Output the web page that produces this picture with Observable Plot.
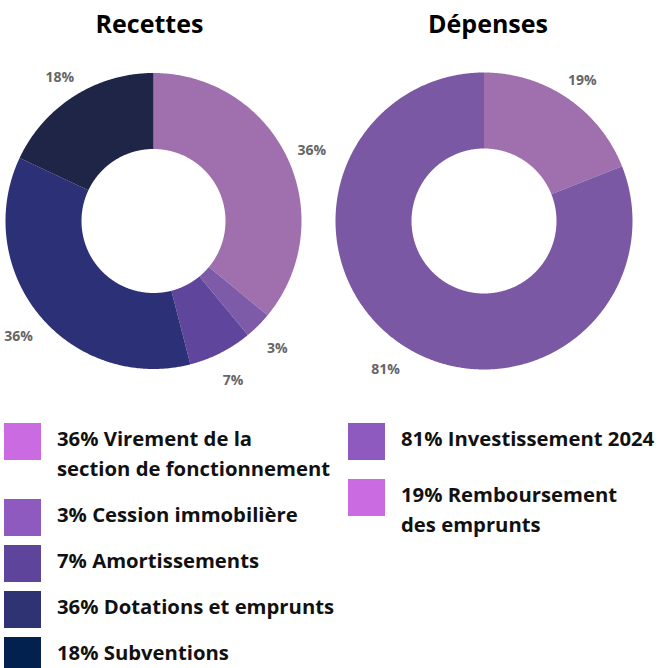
<!DOCTYPE html>
<html>
<head>
<meta charset="utf-8">
<script src="https://cdn.jsdelivr.net/npm/d3@7"></script>
<script src="https://cdn.jsdelivr.net/npm/@observablehq/plot@0.6"></script>
<style>
  html, body { margin: 0; padding: 0; background: #fff; }
  #wrap { width: 663px; height: 668px; overflow: hidden; position: relative; }
  #chart svg { display: block; }
  .legend { position: relative; display: flex; padding-top: 23px; font-family: "Open Sans", sans-serif; font-weight: 700; font-size: 20.3px; color: #111; }
  .col { display: flex; flex-direction: column; }
  .col.left { margin-left: 4px; width: 344px; }
  .col.right { margin-left: 0; }
  .item { display: flex; align-items: flex-start; }
  .sw { width: 37px; height: 37px; flex: none; }
  .txt { line-height: 30px; padding-top: 0; padding-bottom: 7px; white-space: pre-line; margin-left: 16px; }
  .left .item { margin-bottom: 9px; }
  .right .item { margin-bottom: 19px; }
</style>
</head>
<body>
<div id="wrap">
  <div id="chart"></div>
  <div class="legend" id="legend"></div>
</div>
<script>
// ---- data ----
const titles = ["Recettes", "Dépenses"];

const recettesLabels = ["Virement de la\nsection de fonctionnement", "Cession immobilière", "Amortissements", "Dotations et emprunts", "Subventions"];
const recettesValues = [36, 3, 7, 36, 18];

const depensesLabels = ["Remboursement\ndes emprunts", "Investissement 2024"];
const depensesValues = [19, 81];
const depensesLegendOrder = [1, 0];

// ---- styles ----
const recettesSliceColors = ["#a070ae", "#7e5ba8", "#5f459b", "#2c3177", "#1e2547"];
const recettesLegendColors = ["#cb6be2", "#8e5ac0", "#5f449c", "#2f3373", "#03214f"];
const depensesSliceColors = ["#a070ae", "#7a58a3"];
const depensesLegendColors = ["#cb6be2", "#8e5ac0"];

const W = 663, H = 400;
const donuts = [
  {title: titles[0], values: recettesValues, colors: recettesSliceColors, cx: 153, cy: 220.5, R: 148, r: 72, tdx: -4},
  {title: titles[1], values: depensesValues, colors: depensesSliceColors, cx: 483.5, cy: 220.5, R: 148.5, r: 72.5, tdx: 4}
];
const labelRadius = 175;

const polys = [], labels = [], heads = [];
donuts.forEach((g, gi) => {
  const arcs = d3.pie().sort(null).value(d => d)(g.values);
  arcs.forEach((a, i) => {
    const key = gi + "-" + i;
    const n = Math.max(2, Math.ceil((a.endAngle - a.startAngle) / 0.008));
    for (let k = 0; k <= n; k++) {
      const t = a.startAngle + (a.endAngle - a.startAngle) * k / n;
      polys.push({key, color: g.colors[i], x: g.cx + g.R * Math.sin(t), y: g.cy - g.R * Math.cos(t)});
    }
    for (let k = n; k >= 0; k--) {
      const t = a.startAngle + (a.endAngle - a.startAngle) * k / n;
      polys.push({key, color: g.colors[i], x: g.cx + g.r * Math.sin(t), y: g.cy - g.r * Math.cos(t)});
    }
    const m = (a.startAngle + a.endAngle) / 2;
    labels.push({x: g.cx + labelRadius * Math.sin(m), y: g.cy - labelRadius * Math.cos(m) + 4, text: g.values[i] + "%"});
  });
  heads.push({x: g.cx + g.tdx, y: 24, text: g.title});
});

const plot = Plot.plot({
  width: W, height: H,
  marginTop: 0, marginRight: 0, marginBottom: 0, marginLeft: 0,
  x: {domain: [0, W], range: [0, W], axis: null},
  y: {domain: [0, H], range: [0, H], axis: null},
  style: {fontFamily: "'Open Sans', sans-serif", background: "white"},
  marks: [
    Plot.line(polys, {x: "x", y: "y", z: "key", fill: "color", stroke: "none", curve: "linear-closed"}),
    Plot.text(labels, {x: "x", y: "y", text: "text", fontSize: 14, fontWeight: 700, fill: "#666666"}),
    Plot.text(heads, {x: "x", y: "y", text: "text", fontSize: 25, fontWeight: 700, fill: "#000"})
  ]
});
document.getElementById("chart").appendChild(plot);

// ---- legend ----
const legend = document.getElementById("legend");
function makeCol(cls, items) {
  const col = document.createElement("div");
  col.className = "col " + cls;
  items.forEach(it => {
    const row = document.createElement("div");
    row.className = "item";
    const sw = document.createElement("div");
    sw.className = "sw";
    sw.style.background = it.color;
    const tx = document.createElement("div");
    tx.className = "txt";
    tx.textContent = it.value + "% " + it.label;
    row.appendChild(sw); row.appendChild(tx);
    col.appendChild(row);
  });
  legend.appendChild(col);
}
makeCol("left", recettesValues.map((v, i) => ({value: v, label: recettesLabels[i], color: recettesLegendColors[i]})));
makeCol("right", depensesLegendOrder.map(i => ({value: depensesValues[i], label: depensesLabels[i], color: depensesLegendColors[i]})));
</script>
</body>
</html>
